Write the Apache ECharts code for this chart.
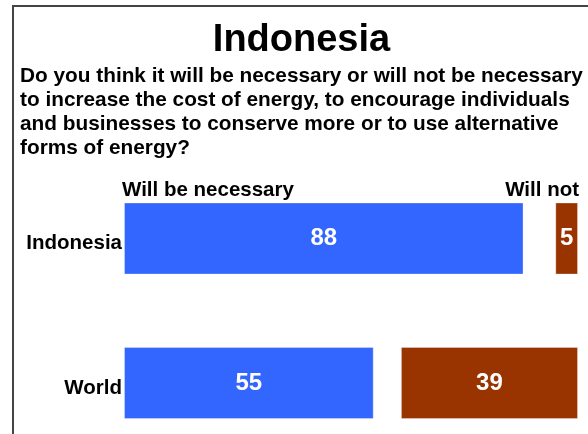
<!DOCTYPE html>
<html>
<head>
<meta charset="utf-8">
<script src="https://cdn.jsdelivr.net/npm/echarts@6/dist/echarts.min.js"></script>
<style>html,body{margin:0;padding:0;background:#fff}#c{width:588px;height:434px}</style>
</head>
<body>
<div id="c"></div>
<script>
const categories = ['Indonesia', 'World'];
const willBeNecessary = [88, 55];
const willNot = [5, 39];
const chartTitle = 'Indonesia';
const questionLines = [
  'Do you think it will be necessary or will not be necessary',
  'to increase the cost of energy, to encourage individuals',
  'and businesses to conserve more or to use alternative',
  'forms of energy?'
];
const headerLeft = 'Will be necessary';
const headerRight = 'Will not';

const FONT = '"Liberation Sans", Arial, Helvetica, sans-serif';
const chart = echarts.init(document.getElementById('c'), null, {renderer: 'canvas'});
chart.setOption({
  backgroundColor: '#ffffff',
  animation: false,
  grid: {left: 124, right: 10, top: 238.5, height: 144.5, containLabel: false},
  xAxis: [
    {type: 'value', min: 0, max: 100, show: false},
    {type: 'value', min: 0, max: 100, show: false, inverse: true}
  ],
  yAxis: {
    type: 'category', data: categories, inverse: true, boundaryGap: false,
    axisLine: {show: false}, axisTick: {show: false}, splitLine: {show: false},
    axisLabel: {color: '#000', fontFamily: FONT, fontWeight: 'bold', fontSize: 20.5, margin: 2, verticalAlign: 'top', lineHeight: 10}
  },
  series: [
    {
      type: 'bar', name: headerLeft, xAxisIndex: 0, data: willBeNecessary, barWidth: 72, barGap: '-100%',
      itemStyle: {color: '#3366FF', borderColor: 'rgba(255,255,255,0.3)', borderWidth: 1},
      label: {show: true, position: 'inside', color: '#fff', fontFamily: FONT, fontWeight: 'bold', fontSize: 24}
    },
    {
      type: 'bar', name: headerRight, xAxisIndex: 1, data: willNot, barWidth: 72, barGap: '-100%',
      itemStyle: {color: '#993300', borderColor: 'rgba(255,255,255,0.3)', borderWidth: 1},
      label: {show: true, position: 'inside', color: '#fff', fontFamily: FONT, fontWeight: 'bold', fontSize: 24}
    }
  ],
  graphic: [
    {type: 'polyline', shape: {points: [[13, 434], [13, 6], [588, 6]]}, style: {stroke: '#444', lineWidth: 2, fill: null}},
    {type: 'text', x: 301.5, y: 40.5, style: {text: chartTitle, fill: '#000', font: 'bold 38px ' + FONT, textAlign: 'center', textVerticalAlign: 'middle'}},
    {type: 'text', x: 20, y: 64, style: {text: questionLines.join('\n'), fill: '#000', font: 'bold 20.8px ' + FONT, lineHeight: 24, textAlign: 'left', textVerticalAlign: 'top'}},
    {type: 'text', x: 122, y: 190.5, style: {text: headerLeft, fill: '#000', font: 'bold 20.5px ' + FONT, textAlign: 'left', textVerticalAlign: 'middle'}},
    {type: 'text', x: 579, y: 190.5, style: {text: headerRight, fill: '#000', font: 'bold 20.5px ' + FONT, textAlign: 'right', textVerticalAlign: 'middle'}}
  ]
});
</script>
</body>
</html>
